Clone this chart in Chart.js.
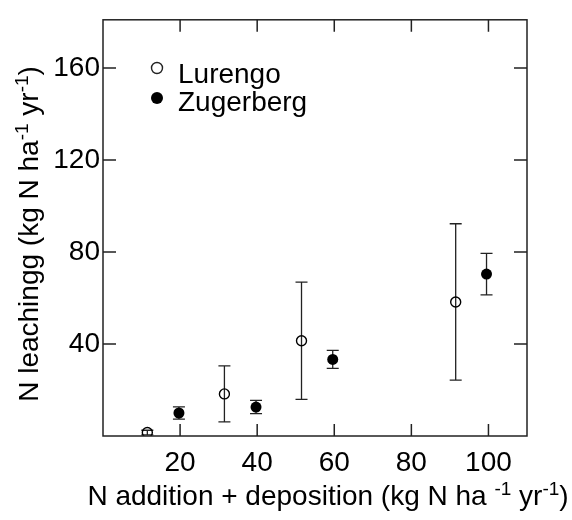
<!DOCTYPE html>
<html>
<head>
<meta charset="utf-8">
<script src="https://cdn.jsdelivr.net/npm/chart.js@4/dist/chart.umd.min.js"></script>
<style>
  html, body { margin: 0; padding: 0; background: #fff; }
  canvas { display: block; }
</style>
</head>
<body>
<canvas id="leachChart" width="572" height="520"></canvas>
<script>
// data
const seriesNames = ['Lurengo', 'Zugerberg'];
const lurX = [11.5, 31.5, 51.5, 91.5];
const lurY = [1.5, 18.3, 41.4, 58.3];
const lurErr = [1.0, 12.2, 25.5, 34.0];
const zugX = [19.7, 39.7, 59.6, 99.5];
const zugY = [10.0, 12.6, 33.3, 70.4];
const zugErr = [2.7, 2.9, 3.9, 9.0];
const xTicks = [20, 40, 60, 80, 100];
const yTicks = [40, 80, 120, 160];

const FONT = '"Liberation Sans", Arial, sans-serif';
const INK = '#222';

function pts(xs, ys, es) {
    return xs.map((x, i) => ({ x: x, y: ys[i], err: es[i] }));
}

// draws a string made of [text, isSuperscript] pieces, centred on 0
function drawRich(ctx, parts, size) {
    const supSize = Math.round(size * 0.68);
    let total = 0;
    parts.forEach(p => {
        ctx.font = (p[1] ? supSize : size) + 'px ' + FONT;
        total += ctx.measureText(p[0]).width;
    });
    let x = -total / 2;
    parts.forEach(p => {
        ctx.font = (p[1] ? supSize : size) + 'px ' + FONT;
        ctx.fillText(p[0], x, p[1] ? -size * 0.36 : 0);
        x += ctx.measureText(p[0]).width;
    });
}

const framePlugin = {
    id: 'frame',
    beforeDatasetsDraw(chart) {
        const { ctx, scales: { x, y } } = chart;
        ctx.save();
        ctx.strokeStyle = INK;
        ctx.lineWidth = 1.3;
        chart.data.datasets.forEach(ds => {
            ds.data.forEach(p => {
                const px = x.getPixelForValue(p.x);
                const top = y.getPixelForValue(p.y + p.err);
                const bot = y.getPixelForValue(p.y - p.err);
                ctx.beginPath();
                ctx.moveTo(px, top); ctx.lineTo(px, bot);
                ctx.moveTo(px - 6, top); ctx.lineTo(px + 6, top);
                ctx.moveTo(px - 6, bot); ctx.lineTo(px + 6, bot);
                ctx.stroke();
            });
        });
        ctx.restore();
    },
    afterDraw(chart) {
        const { ctx, chartArea: a, scales: { x, y } } = chart;
        ctx.save();
        ctx.strokeStyle = INK;
        ctx.lineWidth = 1.5;
        ctx.strokeRect(a.left, a.top, a.right - a.left, a.bottom - a.top);
        ctx.beginPath();
        xTicks.forEach(v => {
            const px = x.getPixelForValue(v);
            ctx.moveTo(px, a.bottom); ctx.lineTo(px, a.bottom - 12);
            ctx.moveTo(px, a.top); ctx.lineTo(px, a.top + 12);
        });
        yTicks.forEach(v => {
            const py = y.getPixelForValue(v);
            ctx.moveTo(a.left, py); ctx.lineTo(a.left + 13, py);
            ctx.moveTo(a.right, py); ctx.lineTo(a.right - 13, py);
        });
        ctx.stroke();

        // legend
        ctx.fillStyle = '#000';
        ctx.lineWidth = 1.4;
        ctx.beginPath();
        ctx.arc(157, 68, 5.5, 0, Math.PI * 2);
        ctx.stroke();
        ctx.beginPath();
        ctx.arc(157, 98, 6, 0, Math.PI * 2);
        ctx.fill();
        ctx.font = '28px ' + FONT;
        ctx.textAlign = 'left';
        ctx.textBaseline = 'alphabetic';
        ctx.fillText(seriesNames[0], 178, 83);
        ctx.fillText(seriesNames[1], 178, 111);

        // axis titles
        ctx.save();
        ctx.translate(328, 505);
        drawRich(ctx, [['N addition + deposition (kg N ha ', false], ['-1', true], [' yr', false], ['-1', true], [')', false]], 28);
        ctx.restore();
        ctx.save();
        ctx.translate(38, 234);
        ctx.rotate(-Math.PI / 2);
        drawRich(ctx, [['N leachingg (kg N ha', false], ['-1', true], [' yr', false], ['-1', true], [')', false]], 28);
        ctx.restore();
        ctx.restore();
    }
};

new Chart(document.getElementById('leachChart'), {
    type: 'scatter',
    data: {
        datasets: [{
            label: seriesNames[0],
            data: pts(lurX, lurY, lurErr),
            pointRadius: 5,
            pointBorderWidth: 1.4,
            borderColor: '#000',
            backgroundColor: 'rgba(255,255,255,0)'
        }, {
            label: seriesNames[1],
            data: pts(zugX, zugY, zugErr),
            pointRadius: 5.5,
            pointBorderWidth: 0,
            borderColor: '#000',
            backgroundColor: '#000'
        }]
    },
    options: {
        responsive: false,
        animation: false,
        layout: { padding: { top: 13, right: 45, left: 0, bottom: 0 } },
        plugins: {
            legend: { display: false },
            tooltip: { enabled: false }
        },
        scales: {
            x: {
                type: 'linear',
                min: 0,
                max: 110,
                afterBuildTicks(s) { s.ticks = xTicks.map(v => ({ value: v })); },
                afterFit(s) { s.height = 84; },
                grid: { display: false, drawTicks: false },
                border: { display: false },
                ticks: {
                    padding: 10,
                    color: '#000',
                    font: { family: FONT, size: 28 }
                }
            },
            y: {
                type: 'linear',
                min: 0,
                max: 181,
                afterBuildTicks(s) { s.ticks = yTicks.map(v => ({ value: v })); },
                afterFit(s) { s.width = 103; },
                grid: { display: false, drawTicks: false },
                border: { display: false },
                ticks: {
                    padding: 3,
                    color: '#000',
                    font: { family: FONT, size: 28 }
                }
            }
        }
    },
    plugins: [framePlugin]
});
</script>
</body>
</html>
